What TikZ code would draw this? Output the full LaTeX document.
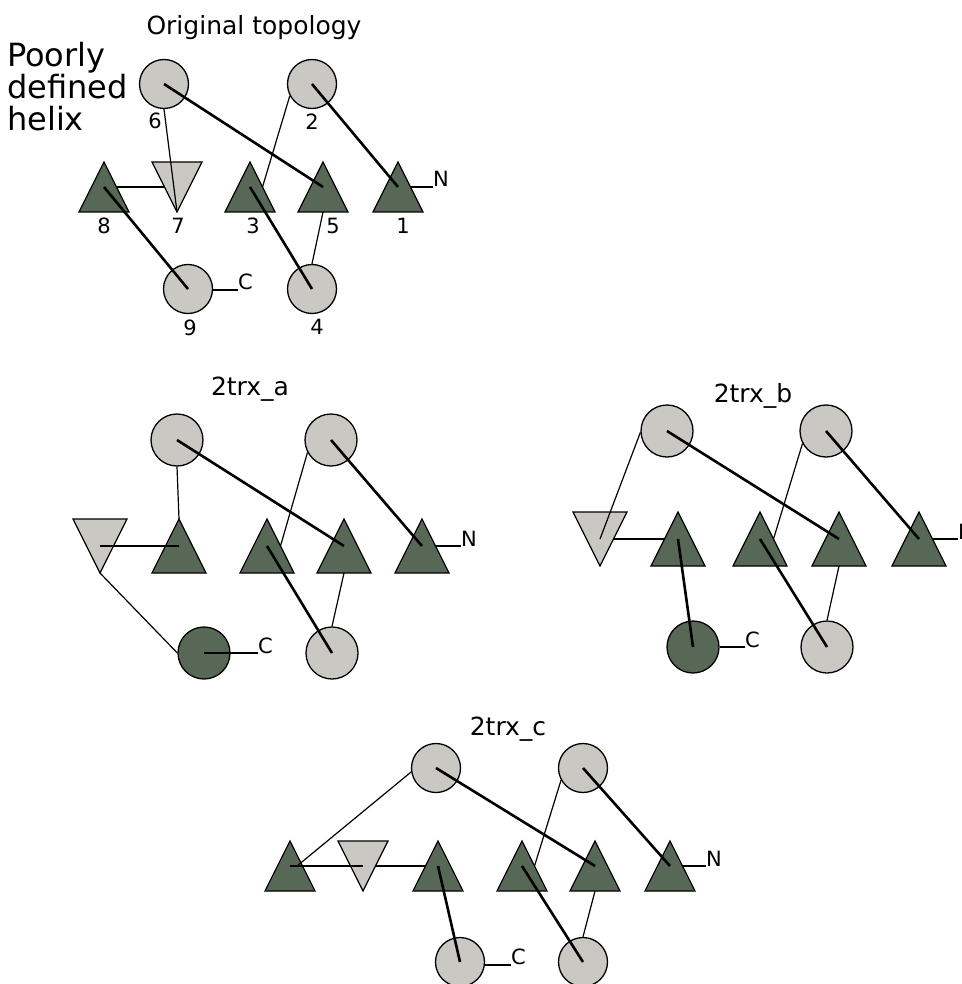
\documentclass[tikz,border=0pt]{standalone}
\usepackage{fontspec}
\setmainfont{DejaVu Sans}
\usetikzlibrary{calc}
\definecolor{tgreen}{RGB}{87,104,87}
\definecolor{tgray}{RGB}{201,200,195}
\tikzset{
  outl/.style={draw=black,line width=1.3pt,line join=miter},
  gc/.style={circle,outl,fill=tgray,minimum size=49pt,inner sep=0pt},
  dc/.style={gc,fill=tgreen},
  bigc/.style={minimum size=52pt},
  thn/.style={draw=black,line width=1.2pt},
  thk/.style={draw=black,line width=2.6pt},
  ttl/.style={inner sep=0pt,anchor=base,font=\fontsize{25}{29}\selectfont},
  lbl/.style={inner sep=0pt,font=\fontsize{21}{24}\selectfont},
  endl/.style={inner sep=0pt,anchor=south west,font=\fontsize{21}{24}\selectfont},
  up/.pic={
    \path[outl,fill=tgreen] (-25,25) -- (0,-25) -- (25,25) -- cycle;
    \coordinate (-c) at (0,0);
    \coordinate (-apex) at (0,-25);
    \coordinate (-base) at (0,25);
    \coordinate (-l) at (-12.5,0);
    \coordinate (-r) at (12.5,0);
  },
  down/.pic={
    \path[outl,fill=tgray] (-25,-25) -- (25,-25) -- (0,25) -- cycle;
    \coordinate (-c) at (0,0);
    \coordinate (-tip) at (0,25);
    \coordinate (-l) at (-12.5,0);
    \coordinate (-r) at (12.5,0);
  }
}
\begin{document}
\begin{tikzpicture}[x=1pt,y=-1pt]
\useasboundingbox (0,0) rectangle (961,984);
\clip (0,0) rectangle (961,984);

% ---------- Original topology ----------
\node[ttl] (t0) at (254,35) {Original topology};
\node[inner sep=0pt,anchor=north west,align=left,font=\fontsize{32}{32}\selectfont] (helix) at (7,42) {Poorly\\defined\\helix};

\node[gc] (o6) at (164,84) {};
\node[gc] (o2) at (312,84) {};
\pic (o8) at (104,187) {up};
\pic (o7) at (177,187) {down};
\pic (o3) at (250,187) {up};
\pic (o5) at (323,187) {up};
\pic (o1) at (398,187) {up};
\node[gc] (o9) at (188,289) {};
\node[gc] (o4) at (312,289) {};

\node[lbl] (l6) at (155,121) {6};
\node[lbl] (l2) at (312,122) {2};
\node[lbl] (l8) at (104,226) {8};
\node[lbl] (l7) at (178,226) {7};
\node[lbl] (l3) at (253,226) {3};
\node[lbl] (l5) at (333,226) {5};
\node[lbl] (l1) at (403,226) {1};
\node[lbl] (l9) at (190,328) {9};
\node[lbl] (l4) at (317,327) {4};
\node[endl] (oN) at (433,187) {N};
\node[endl] (oC) at (238,290) {C};

\draw[thn] (o6.south) -- (o7-tip);
\draw[thn] (o2.208) -- (o3-r);
\draw[thn] (o8-r) -- (o7-l);
\draw[thn] (o5-base) -- (o4.north);
\draw[thk] (o6.center) -- (o5-c);
\draw[thk] (o2.center) -- (o1-c);
\draw[thk] (o8-c) -- (o9.center);
\draw[thk] (o3-c) -- (o4.center);
\draw[thn] (o1-r) -- (oN.south west);
\draw[thn] (o9.east |- oC.south west) -- (oC.south west);

% ---------- 2trx_a ----------
\node[ttl] (ta) at (250,395) {2trx\_a};
\node[gc,bigc] (a6) at (177,440) {};
\node[gc,bigc] (a2) at (331,440) {};
\pic[scale=1.08] (av) at (100,546) {down};
\pic[scale=1.08] (ab) at (179,546) {up};
\pic[scale=1.08] (ac) at (267,546) {up};
\pic[scale=1.08] (ad) at (344,546) {up};
\pic[scale=1.08] (ae) at (422,546) {up};
\node[dc,bigc] (a9) at (204,653) {};
\node[gc,bigc] (a4) at (332,653) {};
\node[endl] (aN) at (461,547) {N};
\node[endl] (aC) at (258,654) {C};

\draw[thn] (a6.south) -- (ab-apex);
\draw[thn] (a2.208) -- (ac-r);
\draw[thn] (av-tip) -- (a9.west);
\draw[thn] (ad-base) -- (a4.north);
\draw[thk] (a6.center) -- (ad-c);
\draw[thk] (a2.center) -- (ae-c);
\draw[thk] (av-c) -- (ab-c);
\draw[thk] (ac-c) -- (a4.center);
\draw[thk] (a9.center) -- (a9.center -| aC.south west);
\draw[thn] (ae-r) -- (ae-r -| aN.south west);

% ---------- 2trx_b ----------
\node[ttl] (tb) at (753,402) {2trx\_b};
\node[gc,bigc] (b6) at (667,431) {};
\node[gc,bigc] (b2) at (826,431) {};
\pic[scale=1.08] (bv) at (600,539) {down};
\pic[scale=1.08] (bb) at (678,539) {up};
\pic[scale=1.08] (bc) at (760,539) {up};
\pic[scale=1.08] (bd) at (839,539) {up};
\pic[scale=1.08] (be) at (919,539) {up};
\node[dc,bigc] (b9) at (693,647) {};
\node[gc,bigc] (b4) at (827,647) {};
\node[endl] (bN) at (958,540) {N};
\node[endl] (bC) at (745,648) {C};

\draw[thn] (b6.183) -- (bv-c);
\draw[thn] (b2.208) -- (bc-r);
\draw[thn] (bv-r) -- (bb-l);
\draw[thn] (bd-base) -- (b4.north);
\draw[thk] (b6.center) -- (bd-c);
\draw[thk] (b2.center) -- (be-c);
\draw[thk] (bb-c) -- (b9.center);
\draw[thk] (bc-c) -- (b4.center);
\draw[thn] (b9.east) -- (b9.east -| bC.south west);
\draw[thn] (be-r) -- (be-r -| bN.south west);

% ---------- 2trx_c ----------
\node[ttl] (tc) at (508,735) {2trx\_c};
\node[gc] (c6) at (436,768) {};
\node[gc] (c2) at (583,768) {};
\pic (ca) at (290,866) {up};
\pic (cv) at (363,866) {down};
\pic (cc) at (438,866) {up};
\pic (cd) at (522,866) {up};
\pic (ce) at (595,866) {up};
\pic (cf) at (670,866) {up};
\node[gc] (c9) at (460,962) {};
\node[gc] (c4) at (583,962) {};
\node[endl] (cN) at (706,867) {N};
\node[endl] (cC) at (511,965) {C};

\draw[thn] (c6.189) -- ($(ca-c)+(7,0)$);
\draw[thn] (cv-r) -- (cc-l);
\draw[thn] (c2.209) -- (cd-r);
\draw[thn] (ce-base) -- (c4.north);
\draw[thk] (ca-c) -- (cv-c);
\draw[thk] (c6.center) -- (ce-c);
\draw[thk] (c2.center) -- (cf-c);
\draw[thk] (cc-c) -- (c9.center);
\draw[thk] (cd-c) -- (c4.center);
\draw[thn] (c9.east |- cC.south west) -- (cC.south west);
\draw[thn] (cf-r) -- (cf-r -| cN.south west);
\end{tikzpicture}
\end{document}
